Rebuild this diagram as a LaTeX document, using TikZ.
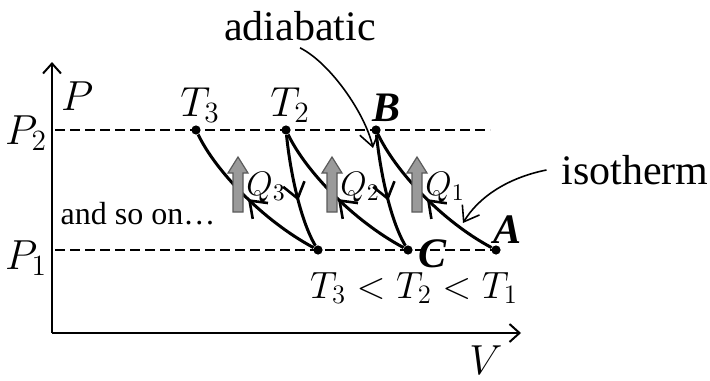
\RequirePackage{fix-cm}
\documentclass[tikz,border=0pt]{standalone}
\usepackage{fontspec}
\setmainfont{Liberation Serif}
\usepackage{tikz}
\usetikzlibrary{arrows.meta, decorations.markings}
\definecolor{qGray}{HTML}{9A9A9A}
\definecolor{qEdge}{HTML}{5A5A5A}
\tikzset{
  lbl/.style={font=\fontsize{21}{24}\selectfont},
  statept/.style={circle, fill=black, inner sep=0pt, minimum size=4.6pt},
  isobar/.style={line width=0.7pt, dash pattern=on 5pt off 2.5pt},
  axisline/.style={line width=1pt, -{Straight Barb[length=5pt,width=9pt]}},
  proc/.style={line width=1.5pt, postaction={decorate},
    decoration={markings, mark=at position #1 with
      {\arrow{Straight Barb[length=7.5pt,width=11pt,line width=1.3pt]}}}},
  proc/.default=0.5,
  note/.style={line width=0.8pt, -{Straight Barb[length=7pt,width=10pt]}}
}

\begin{document}
\begin{tikzpicture}[x=0.5pt, y=-0.5pt]
  \useasboundingbox (0,0) rectangle (710,380);
  % osie
  \coordinate (O) at (52,333);
  \coordinate (Pend) at (52,62);
  \coordinate (Vend) at (521,333);
  \draw[axisline] (O) -- (Pend);
  \draw[axisline] (O) -- (Vend);
  \node[lbl, anchor=west] (Plab) at (54,96) {$P$};
  \node[lbl] (Vlab) at (486,360) {$V$};
  % izobary P1, P2
  \coordinate (p2a) at (55,130); \coordinate (p2b) at (490,130);
  \coordinate (p1a) at (55,250); \coordinate (p1b) at (495,250);
  \draw[isobar] (p2a) -- (p2b);
  \draw[isobar] (p1a) -- (p1b);
  \node[lbl, anchor=east] (P2lab) at (54,133) {$P_2$};
  \node[lbl, anchor=east] (P1lab) at (54,258) {$P_1$};
  % stany
  \node[statept] (T3) at (196,130) {};
  \node[statept] (T2) at (286,130) {};
  \node[statept] (B)  at (376,130) {};
  \node[statept] (D)  at (318,250) {};
  \node[statept] (C)  at (408,250) {};
  \node[statept] (A)  at (496,250) {};
  % izotermy i adiabaty
  \draw[proc] (A) .. controls +(-56,-30) and +(19,40) .. (B);
  \draw[proc=0.58] (B) .. controls +(4,40) and +(-18,-30) .. (C);
  \draw[proc] (C) .. controls +(-56,-30) and +(19,40) .. (T2);
  \draw[proc=0.58] (T2) .. controls +(4,40) and +(-18,-30) .. (D);
  \draw[proc] (D) .. controls +(-56,-30) and +(19,40) .. (T3);
  % ciepło Q
  \foreach \x/\i in {238/3, 332/2, 417/1}{
    \draw[qEdge, fill=qGray, line width=0.6pt]
      (\x-5,212) -- (\x+5,212) -- (\x+5,173) -- (\x+10,173) -- (\x,157)
      -- (\x-10,173) -- (\x-5,173) -- cycle;
    \node[font=\fontsize{17}{19}\selectfont, anchor=west, inner sep=0pt] (Q\i) at (\x+8,187) {$Q_\i$};
  }
  % etykiety
  \node[lbl] (T3lab) at (200,105) {$T_3$};
  \node[lbl] (T2lab) at (290,105) {$T_2$};
  \node[lbl] (Blab) at (386,108) {\textbf{\textit{B}}};
  \node[lbl] (Alab) at (507,230) {\textbf{\textit{A}}};
  \node[lbl] (Clab) at (433,254) {\textbf{\textit{C}}};
  \node[font=\fontsize{19}{22}\selectfont] (ineq) at (414,288) {$T_3<T_2<T_1$};
  \node[font=\fontsize{16}{19}\selectfont] (more) at (138,214) {and so on…};
  % opisy ze strzałkami
  \node[lbl] (adiab) at (300,26) {adiabatic};
  \node[lbl] (isoth) at (635,170) {isotherm};
  \coordinate (adiabTip) at (373,148);
  \coordinate (isoTip) at (463,223);
  \draw[note] (adiab.south) .. controls +(30,15) and +(-8,-35) .. (adiabTip);
  \draw[note] ([xshift=-4pt]isoth.west) .. controls +(-40,8) and +(15,-25) .. (isoTip);
\end{tikzpicture}
\end{document}
